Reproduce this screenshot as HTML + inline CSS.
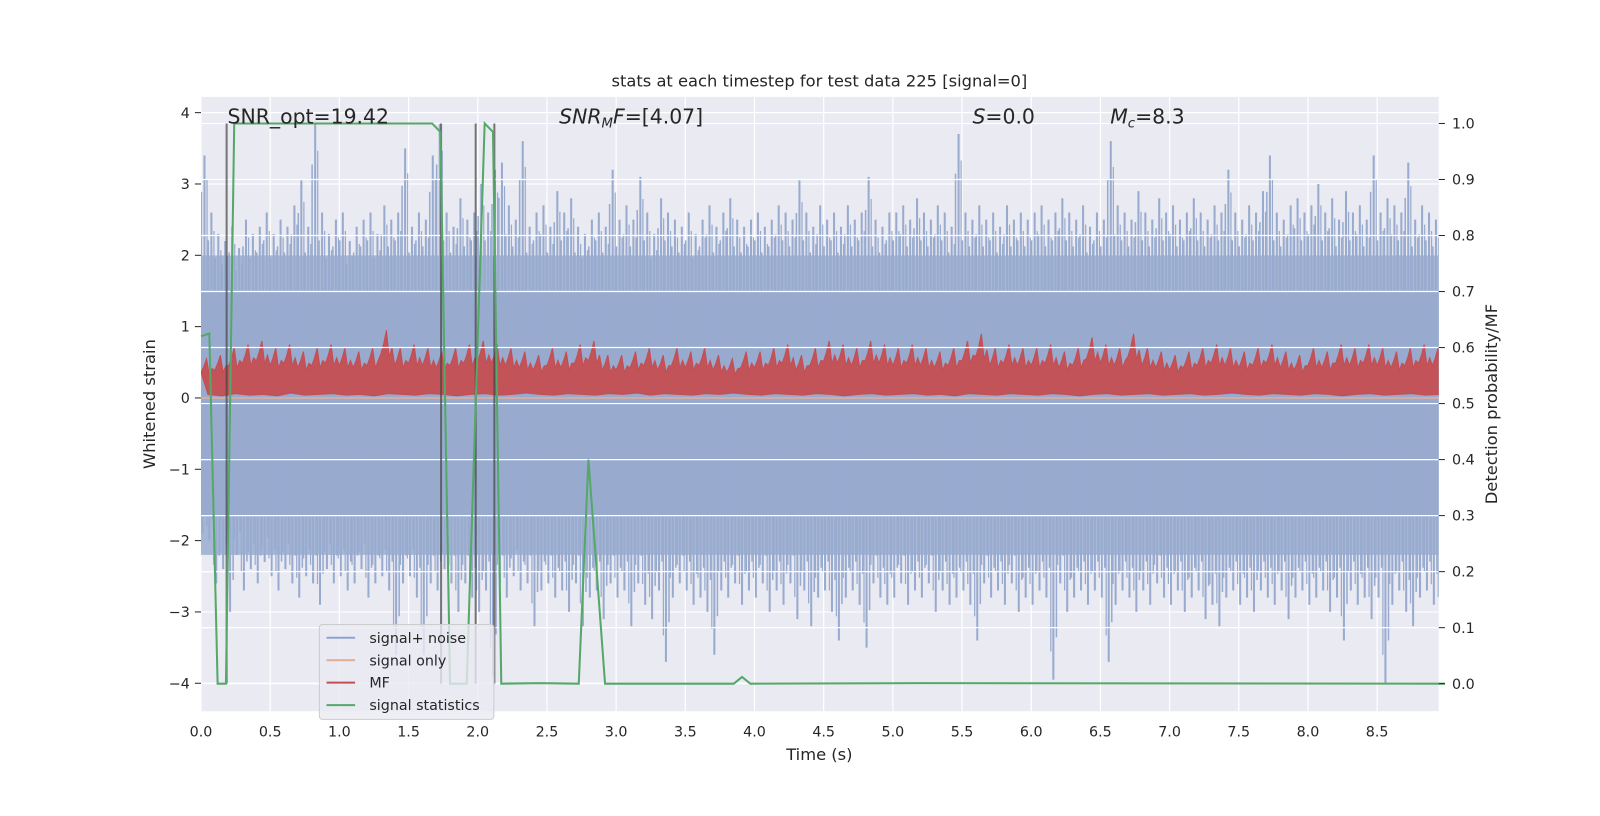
<!DOCTYPE html>
<html><head><meta charset="utf-8"><style>
html,body{margin:0;background:#fff;width:1600px;height:800px;overflow:hidden;}
svg{position:absolute;left:0;top:0;transform-origin:0 0;transform:scale(1.0204);}
svg text{font-family:"DejaVu Sans","Liberation Sans",sans-serif;fill:#262626;}
</style></head><body>
<svg id="chart" width="1600" height="800" xmlns="http://www.w3.org/2000/svg"></svg>
<script>
const timeTicks=[0,0.5,1,1.5,2,2.5,3,3.5,4,4.5,5,5.5,6,6.5,7,7.5,8,8.5];
const strainTicks=[4,3,2,1,0,-1,-2,-3,-4];
const probTicks=[0,0.1,0.2,0.3,0.4,0.5,0.6,0.7,0.8,0.9,1.0];
const noiseTop=[3.4,2.6,2.3,2.2,2.4,2.1,2.5,2.3,2.4,2.6,2.3,2.5,2.4,2.7,3.05,2.4,3.85,2.6,2.3,2.5,2.6,2.2,2.4,2.5,2.6,2.3,2.7,2.5,2.6,3.5,2.4,2.6,2.5,3.4,3.85,2.6,2.4,2.8,2.5,2.6,3.0,2.6,3.2,3.3,2.7,2.5,3.6,2.4,2.6,2.7,2.4,2.9,2.6,2.8,2.4,2.3,2.5,2.6,2.4,3.2,2.5,2.7,2.5,3.1,2.6,2.3,2.8,2.6,2.5,2.4,2.6,2.3,2.5,2.7,2.4,2.6,2.8,2.5,2.4,2.5,2.6,2.4,2.5,2.7,2.6,2.5,3.05,2.6,2.4,2.7,2.5,2.6,2.4,2.7,2.5,2.6,3.1,2.5,2.4,2.6,2.6,2.7,2.5,2.8,2.6,2.5,2.7,2.6,2.4,3.7,2.6,2.5,2.7,2.5,2.6,2.4,2.7,2.5,2.6,2.5,2.6,2.7,2.5,2.6,2.8,2.6,2.5,2.7,2.4,2.6,2.5,3.6,2.7,2.6,2.5,2.9,2.6,2.5,2.8,2.6,2.7,2.5,2.6,2.8,2.6,2.5,2.7,2.6,3.2,2.6,2.5,2.7,2.6,2.9,3.4,2.6,2.5,2.7,2.8,2.6,2.7,3.0,2.6,2.8,2.5,2.9,2.6,2.7,2.5,3.4,2.6,2.8,2.7,2.6,3.3,2.5,2.7,2.6,2.5,2.6];
const noiseBottom=[-1.9,-2.0,-2.6,-2.4,-3.0,-2.2,-2.7,-2.4,-2.6,-2.3,-2.5,-2.7,-2.4,-2.6,-2.8,-2.5,-2.6,-2.9,-2.4,-2.6,-2.5,-2.7,-2.6,-2.4,-2.8,-2.6,-2.5,-2.7,-3.6,-2.6,-2.5,-2.8,-3.6,-2.6,-2.7,-2.4,-2.6,-3.0,-2.6,-2.8,-3.0,-2.7,-3.9,-2.6,-2.8,-2.5,-2.7,-2.6,-3.2,-2.7,-2.6,-2.8,-2.7,-3.0,-2.6,-3.2,-2.8,-2.7,-3.1,-2.6,-2.8,-2.7,-3.2,-2.6,-2.9,-3.1,-2.7,-3.7,-2.8,-2.6,-2.7,-2.9,-2.8,-3.0,-3.6,-2.7,-2.8,-2.6,-2.9,-2.7,-2.8,-2.6,-3.0,-2.7,-2.9,-2.6,-3.1,-2.7,-3.2,-2.8,-2.7,-3.0,-3.4,-2.8,-2.7,-2.9,-3.5,-2.6,-2.8,-2.9,-2.8,-2.6,-2.9,-2.7,-2.8,-2.6,-3.0,-2.7,-2.9,-2.8,-2.7,-2.9,-3.4,-2.6,-2.8,-2.7,-2.9,-2.6,-3.0,-2.8,-2.9,-2.7,-2.8,-3.95,-2.6,-3.0,-2.8,-2.7,-2.9,-2.7,-2.8,-3.7,-2.9,-2.7,-2.8,-3.0,-2.7,-2.9,-2.6,-2.8,-2.9,-2.7,-3.0,-2.8,-2.7,-3.1,-2.9,-3.2,-2.8,-2.7,-2.9,-2.8,-3.0,-2.7,-2.8,-2.9,-2.7,-3.1,-2.8,-2.7,-2.9,-2.8,-2.7,-3.0,-2.8,-3.4,-2.7,-2.9,-2.8,-3.1,-2.8,-4.0,-2.9,-2.7,-3.0,-3.2,-2.8,-2.7,-2.9,-3.1];
const mfHigh=[0.55,0.6,0.7,0.75,0.8,0.7,0.75,0.65,0.7,0.75,0.7,0.65,0.7,0.95,0.7,0.75,0.7,0.65,0.7,0.75,0.8,0.75,0.7,0.65,0.6,0.7,0.65,0.75,0.8,0.6,0.6,0.65,0.7,0.6,0.7,0.65,0.7,0.6,0.55,0.65,0.65,0.7,0.75,0.6,0.7,0.8,0.75,0.7,0.8,0.75,0.7,0.75,0.7,0.65,0.7,0.8,0.9,0.7,0.75,0.7,0.7,0.75,0.65,0.7,0.85,0.75,0.7,0.9,0.7,0.65,0.6,0.65,0.7,0.75,0.7,0.65,0.7,0.75,0.65,0.6,0.7,0.65,0.75,0.7,0.75,0.7,0.65,0.7,0.75,0.7];
const mfLow=[0.05,0.03,0.06,0.04,0.05,0.03,0.07,0.04,0.05,0.06,0.04,0.05,0.03,0.06,0.05,0.04,0.06,0.05,0.03,0.05,0.06,0.04,0.05,0.07,0.05,0.04,0.06,0.05,0.04,0.06,0.05,0.07,0.04,0.06,0.05,0.04,0.06,0.05,0.07,0.05,0.04,0.06,0.05,0.04,0.06,0.05,0.03,0.05,0.06,0.04,0.05,0.06,0.04,0.05,0.03,0.06,0.05,0.04,0.06,0.05,0.04,0.06,0.05,0.03,0.05,0.06,0.04,0.05,0.06,0.04,0.05,0.06,0.04,0.05,0.07,0.05,0.04,0.06,0.05,0.04,0.06,0.05,0.03,0.05,0.06,0.04,0.05,0.06,0.04,0.05];
const statTimes=[0,0.06,0.12,0.18,0.24,1.67,1.73,1.80,1.92,2.05,2.11,2.17,2.45,2.73,2.80,2.92,3.85,3.91,3.97,5.2,8.99];
const statValues=[0.62,0.625,0,0,1.0,1.0,0.985,0,0,1.0,0.985,0,0.001,0,0.4,0,0,0.012,0,0.001,0];
const markerTimes=[0.185,1.735,1.985,2.12];

const svg=document.getElementById('chart');
const NS='http://www.w3.org/2000/svg';
const L=197,R=1410,T=95,B=697;
const xs=t=>197+t*135.6;
const ys=v=>390-v*69.9;
const yp=p=>670-p*549;
function mk(tag,attrs,parent){const e=document.createElementNS(NS,tag);for(const k in attrs)e.setAttribute(k,attrs[k]);(parent||svg).appendChild(e);return e;}

let e;
e=mk('rect',{x:L,y:T,width:R-L,height:B-T,fill:'#eaeaf2'});


const clip=mk('clipPath',{id:'pc'});mk('rect',{x:L,y:T,width:R-L,height:B-T},clip);
const gL=mk('g',{});


timeTicks.forEach(t=>mk('line',{x1:xs(t),x2:xs(t),y1:T,y2:B,stroke:'#fff','stroke-width':1.2},gL));
strainTicks.forEach(v=>mk('line',{x1:L,x2:R,y1:ys(v),y2:ys(v),stroke:'#fff','stroke-width':1.2},gL));

const plot=mk('g',{'clip-path':'url(#pc)'});


const ng=mk('g',{},plot);


mk('rect',{x:L,y:ys(2.0),width:R-L,height:ys(-2.2)-ys(2.0),fill:'#a6b6d5'},ng);
mk('rect',{x:L,y:ys(1.5),width:R-L,height:ys(-1.65)-ys(1.5),fill:'#98abcf'},ng);
noiseTop.forEach((v,i)=>{const x=xs(i*0.05+0.025);
 mk('line',{x1:x,x2:x,y1:ys(0),y2:ys(v),stroke:'#98abcf','stroke-width':2},ng);
 mk('line',{x1:x-3,x2:x-3,y1:ys(0),y2:ys(v*0.85),stroke:'#98abcf','stroke-width':1.5},ng);
 mk('line',{x1:x+2.5,x2:x+2.5,y1:ys(0),y2:ys(v*0.9),stroke:'#98abcf','stroke-width':1.2},ng);});
noiseBottom.forEach((v,i)=>{const x=xs(i*0.05+0.01);
 mk('line',{x1:x,x2:x,y1:ys(0),y2:ys(v),stroke:'#98abcf','stroke-width':2},ng);
 mk('line',{x1:x+3,x2:x+3,y1:ys(0),y2:ys(v*0.85),stroke:'#98abcf','stroke-width':1.5},ng);
 mk('line',{x1:x-2.5,x2:x-2.5,y1:ys(0),y2:ys(v*0.9),stroke:'#98abcf','stroke-width':1.2},ng);});
e=mk('line',{x1:L,x2:R,y1:ys(0),y2:ys(0),stroke:'#e5ae98','stroke-width':1.5},plot);


let pts=[];
mfHigh.forEach((v,i)=>{pts.push(xs(i*0.1)+','+ys(v*0.65));pts.push(xs(i*0.1+0.02)+','+ys(v*0.8));pts.push(xs(i*0.1+0.04)+','+ys(v));pts.push(xs(i*0.1+0.06)+','+ys(v*0.6));pts.push(xs(i*0.1+0.08)+','+ys(v*0.75));});
for(let i=mfLow.length-1;i>=0;i--){pts.push(xs(i*0.1+0.05)+','+ys(mfLow[i]));}
e=mk('polygon',{points:pts.join(' '),fill:'#c44e52','fill-opacity':0.95,stroke:'#c44e52','stroke-width':1},plot);


const gR=mk('g',{});


probTicks.forEach(p=>mk('line',{x1:L,x2:R,y1:yp(p),y2:yp(p),stroke:'#fff','stroke-width':1.2},gR));
markerTimes.forEach(t=>{const m=mk('line',{x1:xs(t),x2:xs(t),y1:yp(1),y2:yp(0),stroke:'#444','stroke-opacity':0.7,'stroke-width':2});
 
 });
e=mk('polyline',{points:statTimes.map((t,i)=>xs(t)+','+yp(statValues[i])).join(' '),fill:'none',stroke:'#55a868','stroke-width':2});



const ax=mk('g',{});


timeTicks.forEach(t=>{const tx=mk('text',{x:xs(t),y:722,'text-anchor':'middle','font-size':14},ax);tx.textContent=t.toFixed(1);});
const ay=mk('g',{});


strainTicks.forEach(v=>{mk('line',{x1:L-6,x2:L,y1:ys(v),y2:ys(v),stroke:'#262626','stroke-width':1},ay);
 const tx=mk('text',{x:186,y:ys(v)+5,'text-anchor':'end','font-size':14},ay);tx.textContent=(v<0?'\u2212'+(-v):v);});
const ar=mk('g',{});


probTicks.forEach(p=>{mk('line',{x1:R,x2:R+6,y1:yp(p),y2:yp(p),stroke:'#262626','stroke-width':1},ar);
 const tx=mk('text',{x:1423,y:yp(p)+5,'font-size':14},ar);tx.textContent=p.toFixed(1);});
</script>
<svg width="1600" height="800" xmlns="http://www.w3.org/2000/svg">
<text x="803" y="85" text-anchor="middle" font-size="16">stats at each timestep for test data 225 [signal=0]</text>
<text x="803" y="745" text-anchor="middle" font-size="16">Time (s)</text>
<text transform="translate(152,396) rotate(-90)" text-anchor="middle" font-size="16">Whitened strain</text>
<text transform="translate(1467,396) rotate(-90)" text-anchor="middle" font-size="16">Detection probability/MF</text>
<text x="223" y="121" font-size="20">SNR_opt=19.42</text>
<text x="548" y="121" font-size="20"><tspan font-style="italic">SNR</tspan><tspan font-style="italic" font-size="13" dy="4">M</tspan><tspan font-style="italic" dy="-4">F</tspan>=[4.07]</text>
<text x="953" y="121" font-size="20"><tspan font-style="italic">S</tspan>=0.0</text>
<text x="1088" y="121" font-size="20"><tspan font-style="italic">M</tspan><tspan font-style="italic" font-size="13" dy="4">c</tspan><tspan dy="-4">=8.3</tspan></text>
<g>
<rect x="313" y="612" width="171" height="93" rx="3" fill="#eaeaf2" fill-opacity="0.8" stroke="#cccccc"/>
<g><line x1="320" x2="348" y1="625" y2="625" stroke="#8fa3cc" stroke-width="2"/><text x="362" y="630" font-size="14">signal+ noise</text></g>
<g><line x1="320" x2="348" y1="647" y2="647" stroke="#e5ae98" stroke-width="2"/><text x="362" y="652" font-size="14">signal only</text></g>
<g><line x1="320" x2="348" y1="669" y2="669" stroke="#c44e52" stroke-width="2"/><text x="362" y="674" font-size="14">MF</text></g>
<g><line x1="320" x2="348" y1="691" y2="691" stroke="#55a868" stroke-width="2"/><text x="362" y="696" font-size="14">signal statistics</text></g>
</g>
</svg>
</body></html>
